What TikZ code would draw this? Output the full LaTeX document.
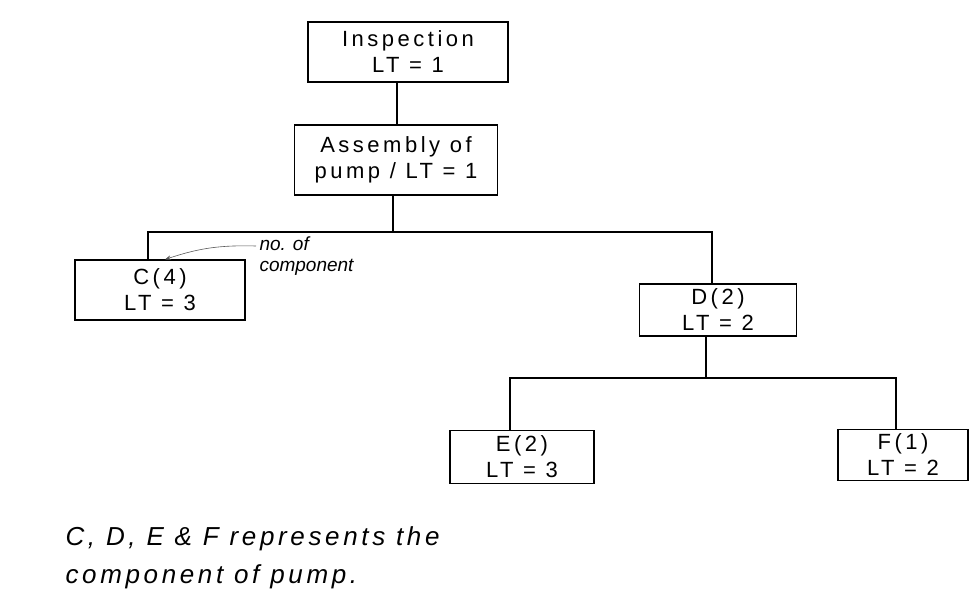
\documentclass[tikz,border=0pt]{standalone}
\usepackage{fontspec}
\setmainfont{Liberation Sans}
\usetikzlibrary{arrows.meta}
\begin{document}
\begin{tikzpicture}[x=1pt,y=-1pt,
  box/.style={draw,line width=1.1pt,inner sep=0pt,align=center,
    font=\fontsize{22}{26}\selectfont\addfontfeature{LetterSpace=16}},
  link/.style={line width=1.1pt},
  note/.style={font=\fontsize{19}{21}\selectfont\itshape,align=left}]
\useasboundingbox[fill=white] (0,0) rectangle (973,614);
\node[box,minimum width=200pt,minimum height=60pt] (insp) at (408,52) {Inspection\\LT = 1};
\node[box,minimum width=203pt,minimum height=70pt] (asm) at (396,160) {Assembly of\\pump / LT = 1};
\node[box,minimum width=170pt,minimum height=60pt] (c) at (160,290) {C(4)\\LT = 3};
\node[box,minimum width=157pt,minimum height=52pt] (d) at (718,310) {D(2)\\LT = 2};
\node[box,minimum width=144pt,minimum height=53pt] (e) at (522,457) {E(2)\\LT = 3};
\node[box,minimum width=130pt,minimum height=51pt] (f) at (903,455) {F(1)\\LT = 2};
\node[note,anchor=west] (lbl) at (256,256) {no. of\\component};
\coordinate (b1) at (393,232);
\coordinate (b2) at (706,378);
\draw[link] (insp.south -| 397,0) -- (asm.north -| 397,0);
\draw[link] (asm.south -| b1) -- (b1);
\draw[link] (b1) -| (c.north -| 148,0);
\draw[link] (b1) -| (d.north -| 712,0);
\draw[link] (d.south -| b2) -- (b2);
\draw[link] (b2) -| (e.north -| 510,0);
\draw[link] (b2) -| (f.north -| 896,0);
\draw[-{Stealth[length=6pt]},line width=0.6pt,gray!70!black] (lbl.west) ++(0,-10) to[bend right=10] (c.north -| 165,0);
\node[note,anchor=west,font=\fontsize{26}{38}\selectfont\itshape\addfontfeature{LetterSpace=14}] (foot) at (62,558) {C, D, E \& F represents the\\component of pump.};
\end{tikzpicture}
\end{document}
